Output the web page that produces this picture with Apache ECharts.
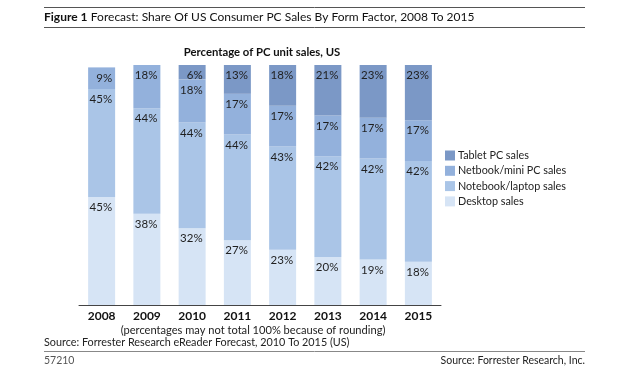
<!DOCTYPE html>
<html><head><meta charset="utf-8">
<script src="https://cdn.jsdelivr.net/npm/echarts@6/dist/echarts.min.js"></script>
<style>html,body{margin:0;padding:0;background:#fff;}#c{width:625px;height:381px;}</style>
</head><body><div id="c"></div>
<script>
const years = ['2008','2009','2010','2011','2012','2013','2014','2015'];
const desktop = [45,38,32,27,23,20,19,18];
const notebook = [45,44,44,44,43,42,42,42];
const netbook = [9,18,18,17,17,17,17,17];
const tablet = [null,null,6,13,18,21,23,23];

const FONT = 'Lato, "Open Sans", sans-serif';
const chart = echarts.init(document.getElementById('c'), null, {renderer:'canvas'});
function ser(name, data, color){
  return {name, type:'bar', stack:'all', data, barWidth:27,
    itemStyle:{color},
    label:{show:true, position:'insideTopRight', distance:3, offset:[0,1.5], formatter:p=>p.value==null?'':p.value+'%',
      fontFamily:FONT, fontSize:11.5, color:'#1f1f1f'}};
}
chart.setOption({
  animation:false,
  textStyle:{fontFamily:FONT},
  grid:{left:79, top:65, width:362, height:240},
  xAxis:{type:'category', data:years,
    axisLine:{lineStyle:{color:'#444', width:1}}, axisTick:{show:false},
    axisLabel:{fontFamily:FONT, fontWeight:'bold', fontSize:12, color:'#111', margin:5}},
  yAxis:{type:'value', min:0, max:100, show:false},
  legend:{orient:'vertical', left:445, top:150, padding:0, itemWidth:10, itemHeight:10, itemGap:4.3,
    icon:'rect', data:['Tablet PC sales','Netbook/mini PC sales','Notebook/laptop sales','Desktop sales'],
    textStyle:{fontFamily:FONT, fontSize:10.8, lineHeight:10, color:'#222', padding:[0,0,0,-2]}},
  series:[
    ser('Desktop sales', desktop, '#d6e4f5'),
    ser('Notebook/laptop sales', notebook, '#aac5e7'),
    ser('Netbook/mini PC sales', netbook, '#93b1dc'),
    ser('Tablet PC sales', tablet, '#7b98c6')
  ],
  graphic:[
    {type:'line', shape:{x1:44,y1:7.5,x2:585,y2:7.5}, style:{stroke:'#555',lineWidth:1}},
    {type:'line', shape:{x1:44,y1:27.5,x2:585,y2:27.5}, style:{stroke:'#555',lineWidth:1}},
    {type:'text', x:44, y:17.5, style:{rich:{b:{fontWeight:'bold',fontSize:12,fontFamily:FONT,fill:'#111'},n:{fontSize:12,fontFamily:FONT,fill:'#111'}},
      text:'{b|Figure 1} {n|Forecast: Share Of US Consumer PC Sales By Form Factor, 2008 To 2015}', verticalAlign:'middle'}},
    {type:'text', x:262, y:52, style:{text:'Percentage of PC unit sales, US', fontWeight:'bold', fontSize:11.3, fontFamily:FONT, fill:'#111', align:'center', verticalAlign:'middle'}},
    {type:'text', x:253, y:330, style:{text:'(percentages may not total 100% because of rounding)', fontSize:11.1, fontFamily:FONT, fill:'#222', align:'center', verticalAlign:'middle'}},
    {type:'text', x:44, y:343, style:{text:'Source: Forrester Research eReader Forecast, 2010 To 2015 (US)', fontSize:10.8, fontFamily:FONT, fill:'#222', verticalAlign:'middle'}},
    {type:'line', shape:{x1:44,y1:351.5,x2:585,y2:351.5}, style:{stroke:'#888',lineWidth:1}},
    {type:'text', x:44, y:360.5, style:{text:'57210', fontSize:10.5, fontFamily:FONT, fill:'#555', verticalAlign:'middle'}},
    {type:'text', x:585, y:360.5, style:{text:'Source: Forrester Research, Inc.', fontSize:10.5, fontFamily:FONT, fill:'#222', align:'right', verticalAlign:'middle'}}
  ]
});
</script></body></html>
